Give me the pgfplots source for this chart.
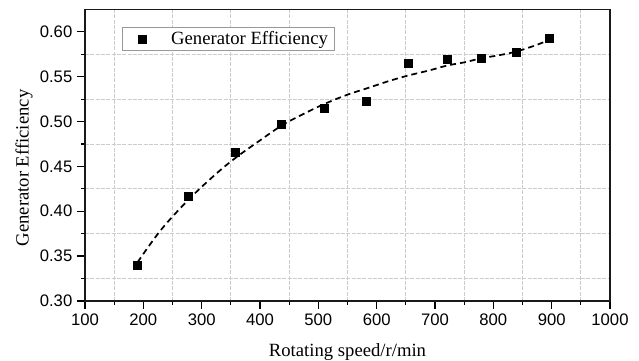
\documentclass[border=0pt]{standalone}
\usepackage{pgfplots}
\pgfplotsset{compat=1.18}
\usepackage{fontspec}
\setmainfont{Liberation Serif}
\newfontfamily\tickfont{Liberation Sans}

\begin{document}
\begin{tikzpicture}[x=1pt,y=1pt]
\begin{axis}[
  scale only axis,
  width=393.75pt, height=218.6pt,
  xmin=100, xmax=1000, ymin=0.30, ymax=0.625,
  xtick={100,200,...,1000},
  ytick={0.30,0.35,...,0.601},
  minor x tick num=1, minor y tick num=1,
  /pgf/number format/assume math mode=true,
  xticklabel style={/pgf/number format/fixed,/pgf/number format/1000 sep={}},
  yticklabel style={/pgf/number format/fixed,/pgf/number format/fixed zerofill,/pgf/number format/precision=2},
  tick label style={font=\tickfont\fontsize{12.5}{14}\selectfont, black},
  tick align=outside,
  xtick pos=bottom, ytick pos=left,
  major tick length=6pt, minor tick length=3pt,
  every tick/.style={black, line width=0.9pt},
  grid=minor,
  minor grid style={gray!40, dash pattern=on 3pt off 1pt, line width=0.6pt},
  axis line style={black!90, line width=1.2pt},
  xlabel={Rotating speed/r/min},
  ylabel={Generator Efficiency},
  label style={font=\fontsize{14}{16}\selectfont},
  xlabel style={at={(axis description cs:0.5,-0.175)}, anchor=center},
  ylabel style={at={(axis description cs:-0.116,0.456)}, anchor=center},
  legend style={at={(axis description cs:0.0705,0.939)}, anchor=north west,
    draw=gray!80, line width=0.6pt, font=\fontsize{14}{16}\selectfont,
    inner xsep=3pt, inner ysep=1pt, row sep=0pt},
  legend cell align=left,
  legend image code/.code={%
    \path (-12pt,0pt) (19pt,0pt);
    \draw[#1] plot coordinates {(0pt,0pt)};},
]
% fitted trend
\addplot[forget plot, black, line width=1.3pt, dash pattern=on 4.5pt off 3pt, smooth, tension=0.6]
  coordinates {
    (190,0.343) (230,0.379) (277,0.4126) (320,0.439) (357,0.459)
    (400,0.479) (437,0.4955) (470,0.507) (510,0.5195) (550,0.530)
    (583,0.537) (620,0.545) (655,0.5515) (690,0.557) (721,0.5625)
    (750,0.566) (779,0.5705) (810,0.574) (839,0.578) (870,0.5845)
    (894,0.5905)
  };
% measured points
\addplot[only marks, mark=square*, mark size=3pt, black]
  coordinates {
    (190,0.340) (277,0.417) (357,0.466) (437,0.497) (510,0.515)
    (583,0.523) (655,0.565) (721,0.570) (779,0.571) (839,0.577)
    (896,0.5925)
  };
\addlegendentry{Generator Efficiency}
\end{axis}
\pgfresetboundingbox
\path[use as bounding box] ([xshift=-63.75pt,yshift=-45pt]current axis.south west)
  rectangle ([xshift=21.75pt,yshift=7.1pt]current axis.north east);
\end{tikzpicture}
\end{document}
